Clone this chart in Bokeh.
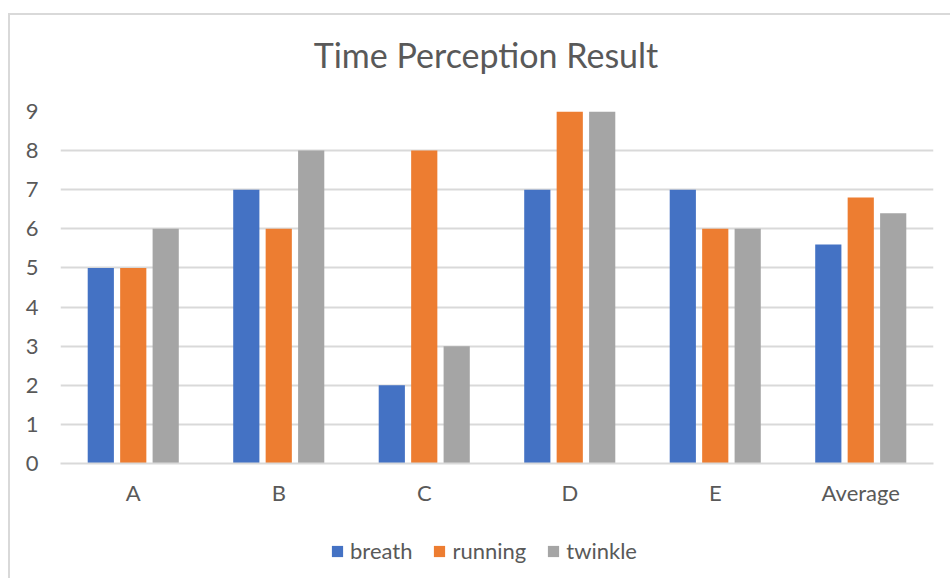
from bokeh.plotting import figure
from bokeh.layouts import column
from bokeh.models import FactorRange, Range1d, Legend, LegendItem, ColumnDataSource, FixedTicker, Label
from bokeh.transform import dodge
from bokeh.embed import file_html
from bokeh.resources import INLINE

# Data
categories = ["A", "B", "C", "D", "E", "Average"]
series_names = ["breath", "running", "twinkle"]
breath = [5, 7, 2, 7, 7, 5.6]
running = [5, 6, 8, 9, 6, 6.8]
twinkle = [6, 8, 3, 9, 6, 6.4]
y_ticks = [0, 1, 2, 3, 4, 5, 6, 7, 8, 9]
title_text = "Time Perception Result"

colors = ["#4472C4", "#ED7D31", "#A5A5A5"]
FONT = "Lato"
TEXT = "#595959"
GRID = "#D9D9D9"

source = ColumnDataSource(dict(cat=categories, breath=breath, running=running, twinkle=twinkle))

# Title strip (its frame lines up with the chart frame inside the column)
tf = figure(
    x_range=Range1d(0, 1), y_range=Range1d(0, 1),
    width=940, height=78,
    output_backend="svg", toolbar_location=None,
    x_axis_location=None, y_axis_location=None,
    min_border_left=0, min_border_right=0, min_border_top=0, min_border_bottom=0,
)
tf.grid.visible = False
tf.outline_line_color = None
tf.border_fill_color = "white"
tf.add_layout(Label(x=425.5, y=39, x_units="screen", y_units="screen", text=title_text,
                    text_font=FONT, text_font_size="34px", text_color=TEXT,
                    text_align="center", text_baseline="middle"))

# Main bar chart
p = figure(
    x_range=FactorRange(*categories, range_padding=0),
    y_range=Range1d(0, 9),
    width=940, height=422,
    output_backend="svg", toolbar_location=None,
    min_border_left=50, min_border_right=17, min_border_top=18, min_border_bottom=52,
)
p.outline_line_color = None
p.background_fill_color = "white"
p.border_fill_color = "white"

offsets = [-0.223, 0.0, 0.223]
for name, off, col in zip(series_names, offsets, colors):
    p.vbar(x=dodge("cat", off, range=p.x_range), top=name, width=0.18, source=source,
           fill_color=col, line_color=None)

p.yaxis.ticker = FixedTicker(ticks=y_ticks)
p.yaxis.axis_line_color = None
p.yaxis.major_tick_line_color = None
p.yaxis.minor_tick_line_color = None
p.yaxis.major_label_text_font = FONT
p.yaxis.major_label_text_font_size = "22px"
p.yaxis.major_label_text_color = TEXT
p.yaxis.major_label_standoff = 16

p.xaxis.axis_line_color = GRID
p.xaxis.axis_line_width = 2
p.xaxis.major_tick_line_color = None
p.xaxis.minor_tick_line_color = None
p.xaxis.major_label_text_font = FONT
p.xaxis.major_label_text_font_size = "22px"
p.xaxis.major_label_text_color = TEXT
p.xaxis.major_label_standoff = 9

p.xgrid.grid_line_color = None
p.ygrid.grid_line_color = GRID
p.ygrid.grid_line_width = 2

# Legend strip under the chart; its zero-width bars only lend their colours to the swatches
lg = figure(
    x_range=FactorRange(*categories, range_padding=0), y_range=Range1d(0, 9),
    width=940, height=63,
    output_backend="svg", toolbar_location=None,
    x_axis_location=None, y_axis_location=None,
    min_border_left=0, min_border_right=0, min_border_top=0, min_border_bottom=0,
)
lg.grid.visible = False
lg.outline_line_color = None
lg.border_fill_color = "white"

items = []
for name, col in zip(series_names, colors):
    r = lg.vbar(x="cat", top=name, width=0, source=source, fill_color=col, line_color=None)
    items.append(LegendItem(label=name, renderers=[r]))

legend = Legend(items=items, orientation="horizontal", location=(270, 14),
                label_text_font=FONT, label_text_font_size="22px", label_text_color=TEXT,
                glyph_width=14, glyph_height=14, label_standoff=6, spacing=20,
                border_line_color=None, background_fill_alpha=0, margin=0, padding=4)
lg.add_layout(legend, "center")

layout = column(tf, p, lg, spacing=0, margin=(13, 0, 0, 8),
                styles={"border-left": "2px solid #D9D9D9", "border-top": "2px solid #D9D9D9"})

open("out.html", "w").write(file_html(layout, INLINE))
